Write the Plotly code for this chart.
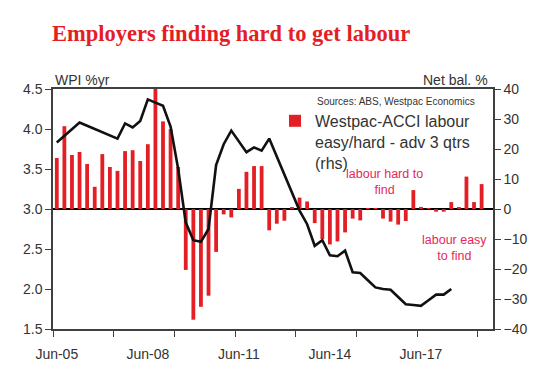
import plotly.graph_objects as go

# ---- data ----
quarters = []
for yr in range(2005, 2020):
    for mo in ["Mar", "Jun", "Sep", "Dec"]:
        quarters.append(f"{mo}-{yr % 100:02d}")
quarters = quarters[1:59]  # Jun-05 .. Sep-19

tick_labels = ["Jun-05", "Jun-08", "Jun-11", "Jun-14", "Jun-17"]

# Westpac-ACCI labour easy/hard, advanced 3 qtrs (net balance %, rhs)
labour_bal = [17.0, 27.6, 18.0, 19.0, 15.0, 7.4, 18.3, 14.0, 12.7, 19.3,
              19.6, 16.0, 21.6, 41.0, 29.2, 26.6, 14.0, -20.3, -36.9, -32.6,
              -28.9, -14.3, -1.8, -2.8, 6.7, 12.4, 14.3, 14.3, -7.1, -4.9,
              -3.9, 0.35, 3.8, 2.5, -4.7, -10.0, -11.8, -10.8, -7.8, -3.2,
              -3.8, 0.1, 0.3, -3.2, -4.2, -5.2, -4.0, 6.3, 0.7, 0.1,
              -0.9, -0.9, 2.3, 0.4, 10.8, 2.3, 8.3]

# WPI % yr (lhs)
wpi = [3.83, 3.91, 4.00, 4.08, 4.04, 4.00, 3.96, 3.92, 3.88, 4.07,
       4.02, 4.10, 4.37, 4.33, 4.29, 4.03, 3.50, 2.83, 2.61, 2.59,
       2.75, 3.55, 3.81, 3.98, 3.85, 3.71, 3.77, 3.73, 3.88, 3.66,
       3.43, 3.20, 2.98, 2.81, 2.54, 2.61, 2.42, 2.41, 2.48, 2.21,
       2.20, 2.11, 2.02, 2.00, 1.99, 1.90, 1.81, 1.80, 1.79, 1.86,
       1.93, 1.93, 2.00]

xpos = list(range(len(quarters)))
label_pos = [quarters.index(t) for t in tick_labels]

RED = "#E31E24"
AX = "#404040"
TXT = "#333333"
FONT = "Liberation Sans, Arial, sans-serif"

fig = go.Figure()
fig.add_trace(go.Bar(
    x=xpos[:len(labour_bal)], y=labour_bal, yaxis="y",
    marker=dict(color=RED, line=dict(width=0)),
    name="Westpac-ACCI labour<br>easy/hard - adv 3 qtrs<br>(rhs)",
    showlegend=True,
))
fig.add_trace(go.Scatter(
    x=xpos[:len(wpi)], y=wpi, yaxis="y2", mode="lines",
    line=dict(color="#111111", width=2.6), showlegend=False, name="WPI",
))

fig.update_layout(
    width=545, height=374,
    margin=dict(l=53, r=52, t=89, b=43),
    paper_bgcolor="white", plot_bgcolor="white",
    font=dict(family=FONT, color=TXT, size=14),
    bargap=0.5,
    title=dict(text="Employers finding hard to get labour",
               font=dict(family="Liberation Serif, Times New Roman, serif",
                         size=22.5, color=RED, weight="bold"),
               x=52 / 545, xanchor="left", xref="container",
               y=1 - 33 / 374, yanchor="middle", yref="container"),
    xaxis=dict(range=[-0.5, 57.5], tickmode="array",
               tickvals=label_pos, ticktext=tick_labels, ticks="",
               ticklabelstandoff=11,
               showline=True, linecolor=AX, linewidth=1.5, mirror=True,
               showgrid=False, zeroline=False,
               tickfont=dict(size=14, color=TXT),
               minor=dict(tickmode="array",
                          tickvals=[-0.5, 7.5, 15.5, 23.5, 31.5, 39.5, 47.5, 55.5],
                          ticks="outside", ticklen=6, tickwidth=1.3,
                          tickcolor=AX, showgrid=False)),
    yaxis=dict(range=[-40, 40], dtick=10, side="right",
               showline=True, linecolor=AX, linewidth=1.5,
               ticks="outside", ticklen=6, tickwidth=1.3, tickcolor=AX,
               showgrid=False, zeroline=True, zerolinecolor="#000000",
               zerolinewidth=1.5, tickfont=dict(size=14, color=TXT)),
    yaxis2=dict(range=[1.5, 4.5], dtick=0.5, tickformat=".1f",
                overlaying="y", side="left",
                showline=True, linecolor=AX, linewidth=1.5,
                ticks="outside", ticklen=6, tickwidth=1.3, tickcolor=AX,
                showgrid=False, zeroline=False,
                tickfont=dict(size=14, color=TXT)),
    legend=dict(x=(275 - 53) / 440, xanchor="left",
                y=(330.7 - 104) / 241.7, yanchor="top",
                bgcolor="rgba(0,0,0,0)", valign="top",
                font=dict(size=16, color=TXT), itemwidth=30,
                tracegroupgap=0),
    annotations=[
        dict(text="WPI %yr", x=0, xanchor="left", xref="paper",
             y=(330.7 - 80) / 241.7, yref="paper", yanchor="middle",
             showarrow=False, font=dict(size=14, color=TXT)),
        dict(text="Net bal. %", x=(490 - 53) / 440, xanchor="right", xref="paper",
             y=(330.7 - 80) / 241.7, yref="paper", yanchor="middle",
             showarrow=False, font=dict(size=14, color=TXT)),
        dict(text="Sources: ABS, Westpac Economics", x=(477 - 53) / 440,
             xanchor="right", xref="paper",
             y=(330.7 - 101.5) / 241.7, yref="paper", yanchor="middle",
             showarrow=False, font=dict(size=10, color=TXT)),
        dict(text="labour hard to<br>find", x=(384 - 53) / 440, xanchor="center",
             xref="paper", y=(330.7 - 183) / 241.7, yref="paper",
             yanchor="middle", showarrow=False,
             font=dict(size=12.5, color="#E6285A")),
        dict(text="labour easy<br>to find", x=(454 - 53) / 440, xanchor="center",
             xref="paper", y=(330.7 - 249) / 241.7, yref="paper",
             yanchor="middle", showarrow=False,
             font=dict(size=12.5, color="#E6285A")),
    ],
)

fig.write_html("out.html", config={"displayModeBar": False},
               post_script="document.body.style.margin='0';document.body.style.overflow='hidden';")
